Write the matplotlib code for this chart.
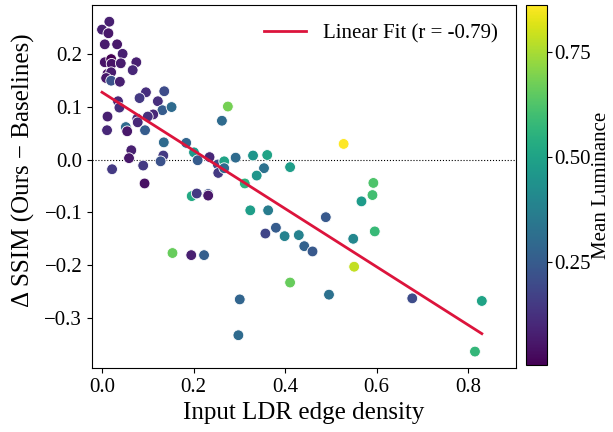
import numpy as np
import matplotlib
matplotlib.use('Agg')
import matplotlib.pyplot as plt

plt.rcParams['font.family'] = ['Liberation Serif', 'DejaVu Serif']
plt.rcParams['mathtext.fontset'] = 'stix'

# edge density, delta SSIM, mean luminance
edge_density = [
    0.016, 0.000, 0.014, 0.006, 0.033, 0.045, 0.006, 0.020, 0.021, 0.041,
    0.075, 0.067, 0.012, 0.020, 0.009, 0.020, 0.039, 0.096, 0.136, 0.082,
    0.122, 0.035, 0.038, 0.132, 0.152, 0.112, 0.100, 0.275, 0.262, 0.012,
    0.011, 0.052, 0.055, 0.077, 0.078, 0.094, 0.135, 0.184, 0.064, 0.059,
    0.134, 0.128, 0.201, 0.209, 0.235, 0.253, 0.254, 0.267, 0.267, 0.292,
    0.330, 0.361, 0.354, 0.338, 0.022, 0.090, 0.093, 0.312, 0.196, 0.207,
    0.232, 0.232, 0.324, 0.363, 0.357, 0.380, 0.154, 0.195, 0.223, 0.301,
    0.298, 0.528, 0.411, 0.593, 0.591, 0.567, 0.489, 0.399, 0.430, 0.442,
    0.460, 0.549, 0.596, 0.551, 0.411, 0.496, 0.678, 0.830, 0.815,
]
delta_ssim = [
    0.262, 0.247, 0.240, 0.219, 0.219, 0.201, 0.185, 0.191, 0.182, 0.183,
    0.185, 0.170, 0.163, 0.166, 0.155, 0.150, 0.148, 0.128, 0.130, 0.117,
    0.111, 0.111, 0.099, 0.094, 0.100, 0.086, 0.082, 0.101, 0.074, 0.082,
    0.056, 0.062, 0.054, 0.078, 0.071, 0.056, 0.033, 0.032, 0.018, 0.003,
    0.008, -0.003, 0.014, -0.001, 0.005, -0.009, -0.025, -0.003, -0.016, 0.004,
    0.008, 0.009, -0.016, -0.030, -0.018, -0.011, -0.045, -0.045, -0.069, -0.064,
    -0.065, -0.068, -0.096, -0.096, -0.140, -0.129, -0.177, -0.181, -0.181, -0.265,
    -0.333, 0.030, -0.014, -0.044, -0.067, -0.079, -0.109, -0.145, -0.143, -0.164,
    -0.174, -0.150, -0.136, -0.203, -0.233, -0.256, -0.263, -0.268, -0.364,
]
mean_lum = [
    0.08, 0.08, 0.06, 0.07, 0.06, 0.08, 0.05, 0.006, 0.05, 0.07,
    0.08, 0.10, 0.04, 0.07, 0.06, 0.22, 0.08, 0.12, 0.20, 0.15,
    0.12, 0.10, 0.12, 0.25, 0.30, 0.10, 0.12, 0.68, 0.30, 0.08,
    0.10, 0.30, 0.06, 0.12, 0.10, 0.25, 0.30, 0.28, 0.08, 0.06,
    0.15, 0.22, 0.47, 0.25, 0.10, 0.20, 0.15, 0.50, 0.30, 0.30,
    0.45, 0.50, 0.32, 0.45, 0.15, 0.15, 0.04, 0.55, 0.52, 0.15,
    0.22, 0.06, 0.48, 0.36, 0.18, 0.25, 0.66, 0.08, 0.26, 0.28,
    0.30, 0.86, 0.48, 0.62, 0.60, 0.47, 0.24, 0.38, 0.38, 0.27,
    0.24, 0.40, 0.58, 0.78, 0.66, 0.32, 0.20, 0.50, 0.57,
]
r_label = -0.79

x = np.array(edge_density)
y = np.array(delta_ssim)

fig = plt.figure(figsize=(6.13, 4.32), dpi=100)
ax = fig.add_axes([0.150, 0.148, 0.692, 0.840])
cax = fig.add_axes([0.858, 0.155, 0.034, 0.833])

sc = ax.scatter(x, y, c=mean_lum, cmap='viridis', s=60, edgecolors='white',
                linewidths=0.6, zorder=3)

# linear fit
slope, intercept = np.polyfit(x, y, 1)
xs = np.linspace(x.min(), x.max(), 100)
ax.plot(xs, slope * xs + intercept, color='#dc143c', linewidth=2,
        label=f'Linear Fit (r = {r_label:.2f})', zorder=4)

ax.axhline(0, color='black', linestyle=':', linewidth=0.8, zorder=1)

ax.set_xlim(-0.022, 0.905)
ax.set_xticks([0.0, 0.2, 0.4, 0.6, 0.8])
ax.set_yticks([-0.3, -0.2, -0.1, 0.0, 0.1, 0.2])
ax.tick_params(labelsize=15)
ax.set_xlabel('Input LDR edge density', fontsize=18)
ax.set_ylabel('Δ SSIM (Ours − Baselines)', fontsize=18)
ax.yaxis.set_label_coords(-0.135, 0.545)
ax.legend(loc='upper right', frameon=False, fontsize=15)

cb = fig.colorbar(sc, cax=cax)
cb.set_ticks([0.25, 0.50, 0.75])
cb.ax.tick_params(labelsize=15, pad=2)
cb.set_label('Mean Luminance', fontsize=15, labelpad=1)

fig.savefig('out.png', dpi=100)
